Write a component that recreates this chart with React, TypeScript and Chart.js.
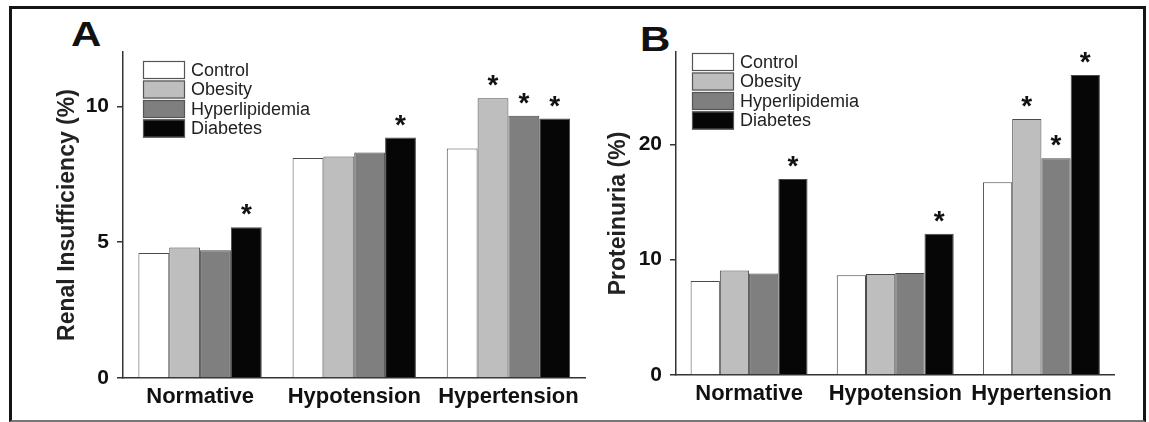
import React, { useEffect, useRef } from 'react';
import { Chart, registerables } from 'chart.js';

Chart.register(...registerables);

// ---------- data ----------
const categories = ['Normative', 'Hypotension', 'Hypertension'];
const seriesNames = ['Control', 'Obesity', 'Hyperlipidemia', 'Diabetes'];
const seriesColors = ['#ffffff', '#bebebe', '#7f7f7f', '#060606'];

// Panel A: Renal insufficiency (%)
const renalControl = [4.6, 8.1, 8.45];
const renalObesity = [4.8, 8.15, 10.3];
const renalHyperlipidemia = [4.7, 8.3, 9.65];
const renalDiabetes = [5.55, 8.85, 9.55];
const renalSignificant = [
  [false, false, false],
  [false, false, true],
  [false, false, true],
  [true, true, true],
];
const renalTicks = [0, 5, 10];
const renalMax = 12;

// Panel B: Proteinuria (%)
const protControl = [8.15, 8.65, 16.7];
const protObesity = [9.05, 8.75, 22.2];
const protHyperlipidemia = [8.8, 8.85, 18.8];
const protDiabetes = [17.0, 12.25, 26.0];
const protSignificant = [
  [false, false, false],
  [false, false, true],
  [false, false, true],
  [true, true, true],
];
const protTicks = [0, 10, 20];
const protMax = 28;

const FONT = '"Liberation Sans", Arial, Helvetica, sans-serif';
Chart.defaults.font.family = FONT;

type PanelCfg = {
  series: number[][];
  significant: boolean[][];
  ticks: number[];
  max: number;
  title: string;
  width: number;
  padLeft: number;
  axisLeft: number;
  padRight: number;
  bottomSpace: number;
  legendDx: number;
  legendDy: number;
};

function makePlugin(cfg: PanelCfg) {
  return {
    id: 'extras',
    afterDatasetsDraw(chart: any) {
      const ctx = chart.ctx;
      const area = chart.chartArea;
      ctx.save();
      // asterisks
      ctx.fillStyle = '#111';
      ctx.font = `bold 28px ${FONT}`;
      ctx.textAlign = 'center';
      ctx.textBaseline = 'alphabetic';
      cfg.significant.forEach((row, di) => {
        const meta = chart.getDatasetMeta(di);
        row.forEach((sig, i) => {
          if (!sig) return;
          const el = meta.data[i];
          ctx.fillText('*', el.x, el.y - 4);
        });
      });
      // legend
      const bx = area.left + cfg.legendDx;
      const by = area.top + cfg.legendDy;
      const bw = 42;
      const bh = 18;
      const step = 19.5;
      ctx.font = `18px ${FONT}`;
      ctx.textAlign = 'left';
      ctx.textBaseline = 'middle';
      seriesNames.forEach((name, i) => {
        const y = by + i * step;
        ctx.fillStyle = seriesColors[i];
        ctx.fillRect(bx, y, bw, bh);
        ctx.strokeStyle = '#555';
        ctx.lineWidth = 1.2;
        ctx.strokeRect(bx + 0.5, y + 0.5, bw - 1, bh - 1);
        ctx.fillStyle = '#222';
        ctx.fillText(name, bx + bw + 6, y + bh / 2 + 1);
      });
      ctx.restore();
    },
  };
}

function Panel({ cfg, left }: { cfg: PanelCfg; left: number }) {
  const ref = useRef<HTMLCanvasElement>(null);
  useEffect(() => {
    if (!ref.current) return;
    const chart = new Chart(ref.current, {
      type: 'bar',
      data: {
        labels: categories,
        datasets: cfg.series.map((vals, i) => ({
          label: seriesNames[i],
          data: vals,
          backgroundColor: seriesColors[i],
          borderColor: '#4a4a4a',
          borderWidth: 1,
          categoryPercentage: 0.8,
          barPercentage: 1.0,
        })),
      },
      options: {
        responsive: false,
        animation: false,
        layout: { padding: { left: cfg.padLeft, top: 52, right: cfg.padRight, bottom: 0 } },
        plugins: { legend: { display: false }, tooltip: { enabled: false } },
        scales: {
          x: {
            type: 'category',
            grid: { display: false, drawTicks: false },
            border: { display: true, color: '#333', width: 1.5 },
            ticks: {
              font: { size: 22, weight: 'bold' },
              color: '#111',
              padding: 6,
              maxRotation: 0,
              autoSkip: false,
            },
            afterFit: (s: any) => {
              s.height = cfg.bottomSpace;
            },
          },
          y: {
            min: 0,
            max: cfg.max,
            grid: { drawOnChartArea: false, drawTicks: true, tickLength: 6, color: '#333', lineWidth: 1.5 },
            border: { display: true, color: '#333', width: 1.5 },
            ticks: { font: { size: 21, weight: 'bold' }, color: '#111', padding: 8 },
            afterBuildTicks: (s: any) => {
              s.ticks = cfg.ticks.map((v) => ({ value: v }));
            },
            title: {
              display: true,
              text: cfg.title,
              font: { size: 23, weight: 'bold' },
              color: '#222',
              padding: 0,
            },
            afterFit: (s: any) => {
              s.width = cfg.axisLeft - cfg.padLeft;
            },
          },
        },
      },
      plugins: [makePlugin(cfg)],
    } as any);
    return () => chart.destroy();
  }, [cfg]);
  return (
    <div style={{ position: 'absolute', left, top: 0, width: cfg.width, height: 422 }}>
      <canvas ref={ref} width={cfg.width} height={422} />
    </div>
  );
}

const panelA: PanelCfg = {
  series: [renalControl, renalObesity, renalHyperlipidemia, renalDiabetes],
  significant: renalSignificant,
  ticks: renalTicks,
  max: renalMax,
  title: 'Renal Insufficiency (%)',
  width: 590,
  padLeft: 42,
  axisLeft: 111,
  padRight: 16.5,
  bottomSpace: 44,
  legendDx: 20,
  legendDy: 9,
};

const panelB: PanelCfg = {
  series: [protControl, protObesity, protHyperlipidemia, protDiabetes],
  significant: protSignificant,
  ticks: protTicks,
  max: protMax,
  title: 'Proteinuria (%)',
  width: 540,
  padLeft: 3,
  axisLeft: 74,
  padRight: 27.5,
  bottomSpace: 47,
  legendDx: 16,
  legendDy: 1,
};

const letterStyle: React.CSSProperties = {
  position: 'absolute',
  fontFamily: FONT,
  fontWeight: 'bold',
  fontSize: 35,
  lineHeight: '35px',
  color: '#111',
  transform: 'scaleX(1.2)',
  transformOrigin: 'left top',
};

export default function App() {
  return (
    <div style={{ position: 'absolute', left: 0, top: 0, width: 1149, height: 422, background: '#fff', overflow: 'hidden' }}>
      <div
        style={{
          position: 'absolute',
          left: 9,
          top: 6,
          width: 1137,
          height: 416,
          boxSizing: 'border-box',
          borderLeft: '3px solid #151515',
          borderTop: '3px solid #151515',
          borderRight: '3px solid #151515',
          borderBottom: '2px solid #777',
        }}
      />
      <div style={{ ...letterStyle, left: 71, top: 16 }}>A</div>
      <div style={{ ...letterStyle, left: 640, top: 21 }}>B</div>
      <Panel cfg={panelA} left={12} />
      <Panel cfg={panelB} left={602} />
    </div>
  );
}
